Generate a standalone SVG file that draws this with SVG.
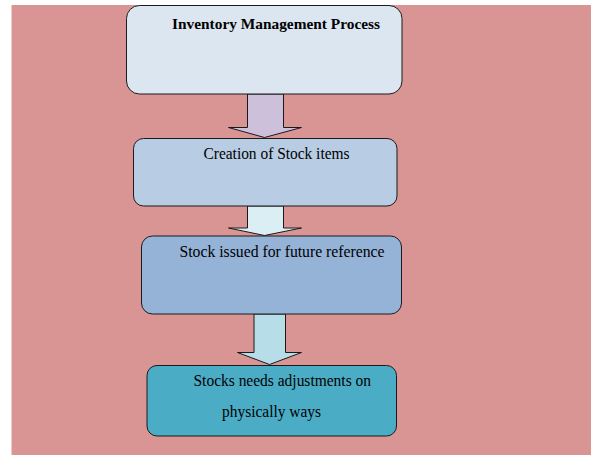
<svg xmlns="http://www.w3.org/2000/svg" width="596" height="460" viewBox="0 0 596 460">
<style>
.box{stroke:#1a1a1a;stroke-width:1}
.arr{stroke:#1a1a1a;stroke-width:1;stroke-linejoin:miter}
.t{font-family:"Liberation Serif","Times New Roman",serif;font-size:16px;fill:#000}
.b{font-weight:bold;font-size:15px}
</style>
<rect x="0" y="0" width="596" height="460" fill="#ffffff"/>
<rect x="11.5" y="5" width="579.5" height="450" fill="#d99594"/>
<g id="connectors">
<path class="arr" fill="#ccc0da" d="M247.5,94 H283.5 V127.5 H301.5 L264.5,137.5 L228.5,127.5 H247.5 Z"/>
<path class="arr" fill="#dbeef3" d="M247.5,206 H283.5 V228 H301.5 L264.5,235.5 L228.5,228 H247.5 Z"/>
<path class="arr" fill="#b7dde8" d="M254,314 H285.5 V352.5 H301.5 L269.5,364.5 L237.5,352.5 H254 Z"/>
</g>
<g id="node1">
<rect class="box" x="126.5" y="5.5" width="275.5" height="88.5" rx="13" fill="#dce6f1"/>
<text class="t b" x="172" y="29" textLength="208" lengthAdjust="spacingAndGlyphs">Inventory Management Process</text>
</g>
<g id="node2">
<rect class="box" x="133.5" y="138.5" width="263.5" height="67.5" rx="10" fill="#b8cce4"/>
<text class="t" x="203.5" y="159" textLength="146" lengthAdjust="spacingAndGlyphs">Creation of Stock items</text>
</g>
<g id="node3">
<rect class="box" x="141.5" y="236" width="260" height="78" rx="11" fill="#95b3d7"/>
<text class="t" x="179.5" y="257" textLength="205" lengthAdjust="spacingAndGlyphs">Stock issued for future reference</text>
</g>
<g id="node4">
<rect class="box" x="147" y="365.5" width="249.5" height="70.5" rx="10" fill="#4bacc6"/>
<text class="t" x="193.5" y="386" textLength="177.5" lengthAdjust="spacingAndGlyphs">Stocks needs adjustments on</text>
<text class="t" x="222" y="416.5" textLength="99" lengthAdjust="spacingAndGlyphs">physically ways</text>
</g>
</svg>
